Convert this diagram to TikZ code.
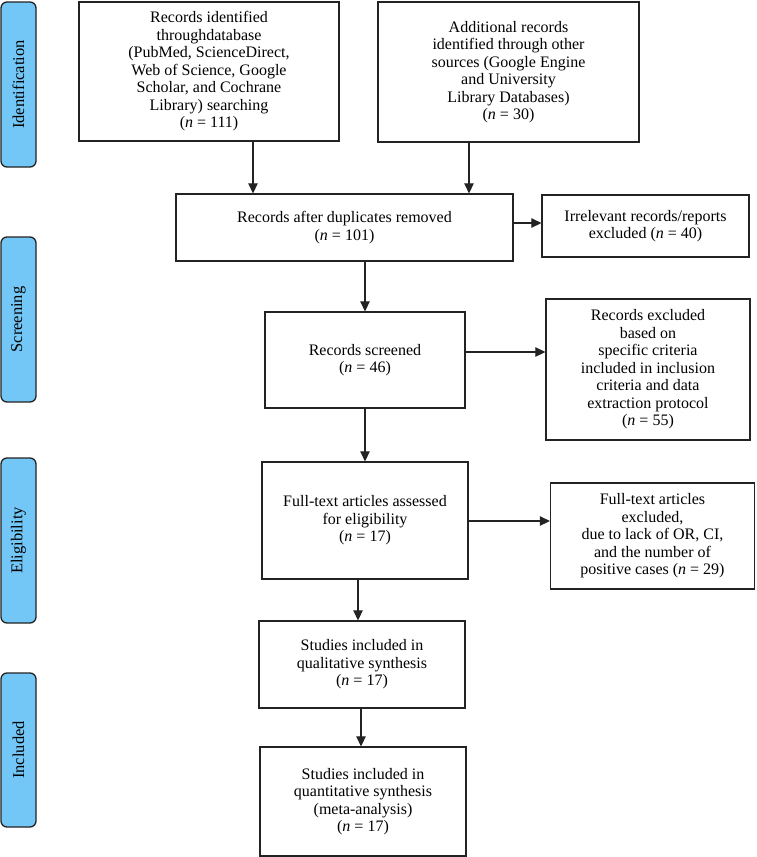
\documentclass[tikz,border=0pt]{standalone}
\usepackage{fontspec}
\setmainfont{Liberation Serif}
\usetikzlibrary{arrows.meta,calc}
\definecolor{sideblue}{RGB}{115,199,246}
\definecolor{lineclr}{RGB}{35,35,35}
\begin{document}
\begin{tikzpicture}[x=1pt,y=-1pt,
  box/.style={draw=lineclr, line width=1.3pt, align=center, inner sep=2pt,
    font=\fontsize{16}{17.5}\selectfont},
  side/.style={draw=lineclr, line width=1.3pt, fill=sideblue, rounded corners=6pt,
    minimum width=35pt, inner sep=0pt},
  sidetext/.style={rotate=90, font=\fontsize{16.5}{18}\selectfont},
  arr/.style={draw=lineclr, line width=1.2pt, -{Triangle[length=10pt,width=9.5pt]}}]
\useasboundingbox (0,0) rectangle (756,857);

% side labels
\node[side, minimum height=165pt] (sid) at (18.5,84.5) {};
\node[sidetext] (sidt) at (sid.center) {Identification};
\node[side, minimum height=165pt] (sscr) at (18.5,319.5) {};
\node[sidetext] (sscrt) at (sscr.center) {Screening};
\node[side, minimum height=165pt] (selg) at (18.5,540.5) {};
\node[sidetext] (selgt) at (selg.center) {Eligibility};
\node[side, minimum height=154pt] (sinc) at (18.5,750) {};
\node[sidetext] (sinct) at (sinc.center) {Included};

% boxes
\node[box, minimum width=260pt, minimum height=139pt] (id1) at (209,71.5)
  {Records identified\\ throughdatabase\\ (PubMed, ScienceDirect,\\ Web of Science, Google\\ Scholar, and Cochrane\\ Library) searching\\ (\textit{n} = 111)};
\node[box, minimum width=261pt, minimum height=140pt] (id2) at (508.5,72)
  {Additional records\\ identified through other\\ sources (Google Engine\\ and University\\ Library Databases)\\ (\textit{n} = 30)};
\node[box, minimum width=337pt, minimum height=67pt] (dup) at (344.5,227.5)
  {Records after duplicates removed\\ (\textit{n} = 101)};
\node[box, minimum width=207pt, minimum height=62pt] (irr) at (645.5,226)
  {Irrelevant records/reports\\ excluded (\textit{n} = 40)};
\node[box, minimum width=200pt, minimum height=96pt] (scr) at (365,360)
  {Records screened\\ (\textit{n} = 46)};
\node[box, minimum width=204pt, minimum height=141pt] (exc1) at (648,369.5)
  {Records excluded\\ based on\\ specific criteria\\ included in inclusion\\ criteria and data\\ extraction protocol\\ (\textit{n} = 55)};
\node[box, minimum width=206pt, minimum height=117pt] (ft) at (365,520.5)
  {Full-text articles assessed\\ for eligibility\\ (\textit{n} = 17)};
\node[box, minimum width=204pt, minimum height=106pt] (exc2) at (652.5,536)
  {Full-text articles\\ excluded,\\ due to lack of OR, CI,\\ and the number of\\ positive cases (\textit{n} = 29)};
\node[box, minimum width=206pt, minimum height=87pt] (qual) at (362,664.5)
  {Studies included in\\ qualitative synthesis\\ (\textit{n} = 17)};
\node[box, minimum width=206pt, minimum height=109pt] (quant) at (363,801.5)
  {Studies included in\\ quantitative synthesis\\ (meta-analysis)\\ (\textit{n} = 17)};

% connectors
\draw[arr] (id1.south -| 253,0) -- (dup.north -| 253,0);
\draw[arr] (id2.south -| 469,0) -- (dup.north -| 469,0);
\draw[arr] (dup.east |- 0,223) -- (irr.west |- 0,223);
\draw[arr] (dup.south -| scr.north) -- (scr.north);
\draw[arr] (scr.east |- 0,352) -- (exc1.west |- 0,352);
\draw[arr] (scr.south) -- (ft.north);
\draw[arr] (ft.east |- 0,521) -- (exc2.west |- 0,521);
\draw[arr] (ft.south -| 358,0) -- (qual.north -| 358,0);
\draw[arr] (qual.south -| 361,0) -- (quant.north -| 361,0);
\end{tikzpicture}
\end{document}
